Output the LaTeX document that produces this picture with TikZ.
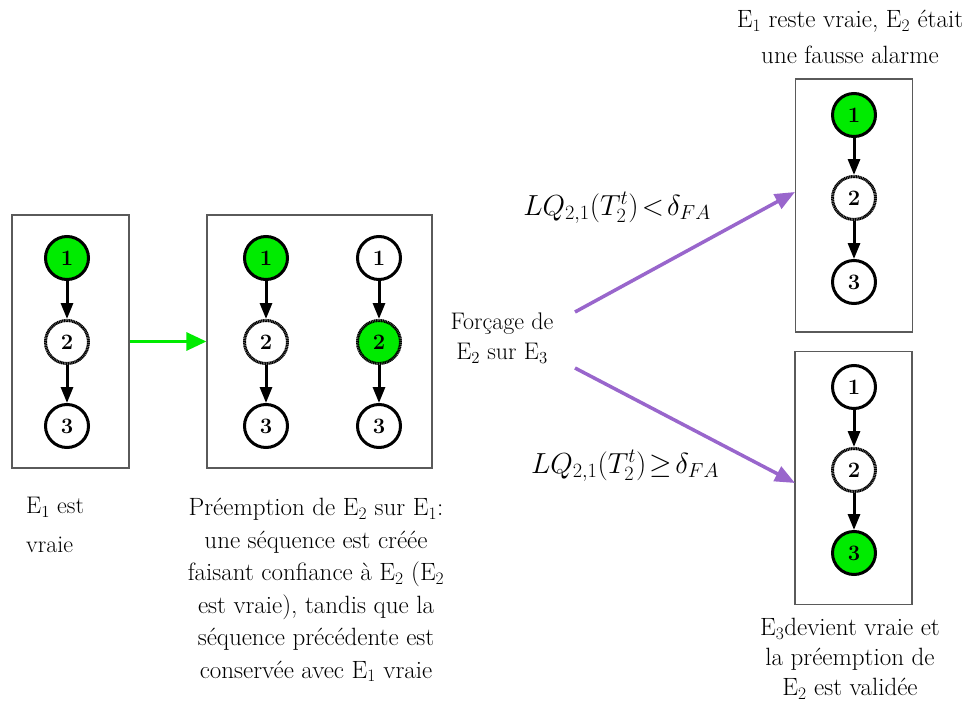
\RequirePackage{fix-cm}
\documentclass[tikz,border=0pt]{standalone}
\usepackage{fontspec}
\usetikzlibrary{arrows.meta}
\definecolor{vert}{RGB}{0,235,0}
\definecolor{violet2}{RGB}{153,102,204}
\definecolor{boxgray}{RGB}{90,90,90}
\begin{document}
\begin{tikzpicture}[x=1pt,y=-1pt,
  box/.style={draw=boxgray,line width=1.2pt,minimum width=117pt,minimum height=253pt,inner sep=0pt},
  st/.style={circle,draw=black,line width=3pt,minimum size=43pt,inner sep=0pt,font=\fontsize{22}{22}\selectfont\bfseries},
  stdash/.style={st,dash pattern=on 1.2pt off 0.5pt},
  on/.style={fill=vert},
  edge/.style={line width=3pt,-{Triangle[length=16pt,width=12pt]}},
  txt/.style={align=center,inner sep=0pt},
  frm/.style={font=\fontsize{29}{29}\selectfont,inner sep=0pt,anchor=base},
  garrow/.style={draw=vert,line width=3pt,-{Triangle[length=20pt,width=18pt]}},
  parrow/.style={draw=violet2,line width=3.5pt,-{Triangle[length=20pt,width=16pt]}}
]
\path[use as bounding box] (0,0) rectangle (967,715);

% boxes
\node[box] (B1) at (70.5,341.5) {};
\node[box,minimum width=225pt] (B2) at (319.5,341.5) {};
\node[box] (B3) at (854,205.5) {};
\node[box] (B4) at (853.5,478) {};

% box 1
\node[st,on] (a1) at (67,258) {1};
\node[stdash] (a2) at (67,342) {2};
\node[st] (a3) at (67,426) {3};
\draw[edge] (a1) -- (a2);
\draw[edge] (a2) -- (a3);

% box 2
\node[st,on] (b1) at (266,258) {1};
\node[stdash] (b2) at (266,342) {2};
\node[st] (b3) at (266,426) {3};
\draw[edge] (b1) -- (b2);
\draw[edge] (b2) -- (b3);
\node[st] (c1) at (379,258) {1};
\node[stdash,on] (c2) at (379,342) {2};
\node[st] (c3) at (379,426) {3};
\draw[edge] (c1) -- (c2);
\draw[edge] (c2) -- (c3);

% box 3
\node[st,on] (d1) at (854,115) {1};
\node[stdash] (d2) at (854,198) {2};
\node[st] (d3) at (854,282) {3};
\draw[edge] (d1) -- (d2);
\draw[edge] (d2) -- (d3);

% box 4
\node[st] (e1) at (854,387) {1};
\node[stdash] (e2) at (854,470) {2};
\node[st,on] (e3) at (854,553) {3};
\draw[edge] (e1) -- (e2);
\draw[edge] (e2) -- (e3);

% green arrow
\draw[garrow] (B1) -- (B2);

% forcing label and purple arrows
\node[txt,anchor=north,font=\fontsize{24}{30}\selectfont] (force) at (502,313) {For\c{c}age de\\E$_{2}$ sur E$_{3}$};
\coordinate (p1) at (575,312);
\coordinate (p2) at (575,368);
\coordinate (q1) at (795,192);
\coordinate (q2) at (795,483);
\draw[parrow] (p1) -- (q1);
\draw[parrow] (p2) -- (q2);
\node[frm] (f1) at (617,215) {$LQ_{2,1}(T^{t}_{2})\!<\!\delta_{FA}$};
\node[frm] (f2) at (625,473) {$LQ_{2,1}(T^{t}_{2})\!\geq\!\delta_{FA}$};

% captions
\node[txt,align=left,anchor=north west,font=\fontsize{24}{39}\selectfont] (cap1) at (26,497) {E$_{1}$ est\\vraie};
\node[txt,anchor=north,font=\fontsize{25}{32.5}\selectfont] (cap2) at (316,498) {Pr\'eemption de E$_{2}$ sur E$_{1}$:\\une s\'equence est cr\'e\'ee\\faisant confiance \`a E$_{2}$ (E$_{2}$\\est vraie), tandis que la\\s\'equence pr\'ec\'edente est\\conserv\'ee avec E$_{1}$ vraie};
\node[txt,anchor=north,font=\fontsize{25}{36}\selectfont] (cap3) at (850,10) {E$_{1}$ reste vraie, E$_{2}$ \'etait\\une fausse alarme};
\node[txt,anchor=north,font=\fontsize{25}{30}\selectfont] (cap4) at (850,618) {E$_{3}$devient vraie et\\la pr\'eemption de\\E$_{2}$ est valid\'ee};
\end{tikzpicture}
\end{document}
